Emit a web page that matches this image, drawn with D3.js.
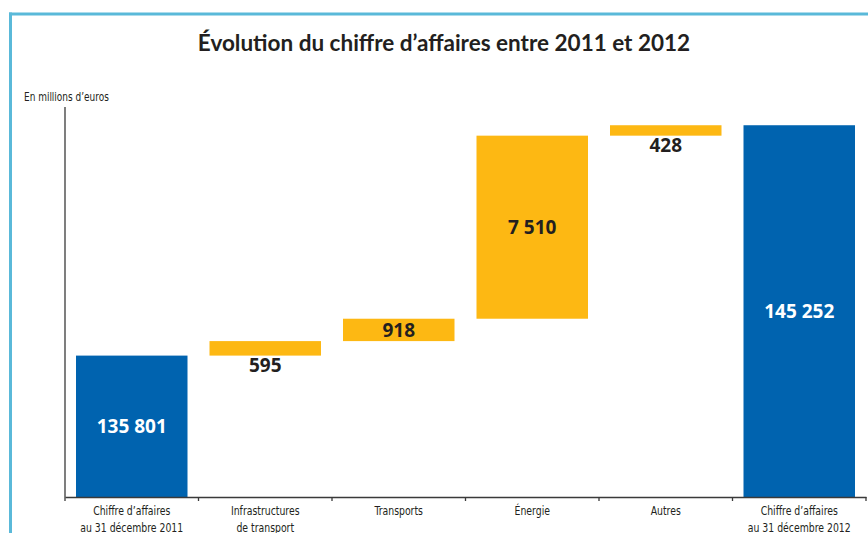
<!DOCTYPE html>
<html>
<head>
<meta charset="utf-8">
<script src="https://cdn.jsdelivr.net/npm/d3@7"></script>
<style>
  html, body { margin: 0; padding: 0; background: #fff; }
  svg { display: block; }
</style>
</head>
<body>
<div id="visContainer"></div>
<script>
'use strict';

// chart data
var categories = [
  ["Chiffre d\u2019affaires", "au 31 d\u00e9cembre 2011"],
  ["Infrastructures", "de transport"],
  ["Transports"],
  ["\u00c9nergie"],
  ["Autres"],
  ["Chiffre d\u2019affaires", "au 31 d\u00e9cembre 2012"]
];
var values = [135801, 595, 918, 7510, 428, 145252];
var kinds = ["total", "delta", "delta", "delta", "delta", "total"];
var yDomain = [130000, 146000];

var width = 868, height = 533;
var margin = {top: 107, bottom: 36, left: 65, right: 2};
var narrow = 0.83; // squeeze to mimic a condensed face

var svg = d3.select('#visContainer')
    .append('svg')
    .attr('width', width)
    .attr('height', height);

// frame lines (top and left)
svg.append('line')
    .attr('x1', 9).attr('x2', width).attr('y1', 14).attr('y2', 14)
    .attr('stroke', '#5ab9d9').attr('stroke-width', 3);
svg.append('line')
    .attr('x1', 10.5).attr('x2', 10.5).attr('y1', 12.5).attr('y2', height)
    .attr('stroke', '#5ab9d9').attr('stroke-width', 3);

// title
svg.append('text')
    .attr('x', 444).attr('y', 51)
    .attr('text-anchor', 'middle')
    .style('font-family', 'Lato, "Open Sans", sans-serif')
    .style('font-weight', 'bold')
    .style('font-size', '22.5px')
    .style('fill', '#231f20')
    .text("\u00c9volution du chiffre d\u2019affaires entre 2011 et 2012");

// unit label
svg.append('text')
    .attr('transform', 'translate(24,101) scale(' + narrow + ',1)')
    .style('font-family', '"Liberation Sans Narrow", "DejaVu Sans Condensed", sans-serif')
    .style('font-size', '12px')
    .style('fill', '#231f20')
    .text("En millions d\u2019euros");

// build waterfall steps
var steps = [];
var running = 0;
values.forEach(function(v, i) {
  if (kinds[i] == "total") {
    steps.push({i: i, start: yDomain[0], end: v, value: v, kind: "total"});
    running = v;
  } else {
    steps.push({i: i, start: running, end: running + v, value: v, kind: "delta"});
    running += v;
  }
});

var x = d3.scaleBand()
    .domain(d3.range(categories.length))
    .range([margin.left, width - margin.right])
    .padding(0);

var y = d3.scaleLinear()
    .domain(yDomain)
    .range([height - margin.bottom, margin.top]);

var fmt = d3.formatLocale({decimal: ",", thousands: "\u00a0", grouping: [3], currency: ["", " \u20ac"]}).format(",d");

var barPad = 11;
var colors = {total: '#0063af', delta: '#fdb813'};

svg.selectAll('rect.bar')
    .data(steps)
    .enter()
    .append('rect')
    .attr('class', 'bar')
    .attr('x', function(d) { return x(d.i) + barPad; })
    .attr('width', x.bandwidth() - 2 * barPad)
    .attr('y', function(d) { return y(Math.max(d.start, d.end)); })
    .attr('height', function(d) { return Math.abs(y(d.start) - y(d.end)); })
    .attr('fill', function(d) { return colors[d.kind]; });

// value labels
svg.selectAll('text.val')
    .data(steps)
    .enter()
    .append('text')
    .attr('class', 'val')
    .attr('x', function(d) { return x(d.i) + x.bandwidth() / 2; })
    .attr('y', function(d) {
      var top = y(Math.max(d.start, d.end)), bot = y(Math.min(d.start, d.end));
      if (bot - top < 20) return bot + 16;   // small bars: label below
      return (top + bot) / 2 + 7;
    })
    .attr('text-anchor', 'middle')
    .style('font-family', '"Open Sans", sans-serif')
    .style('font-weight', 'bold')
    .style('font-size', '19px')
    .style('fill', function(d) { return d.kind == "total" ? '#ffffff' : '#231f20'; })
    .text(function(d) { return fmt(d.value); });

// axes
var baseY = height - margin.bottom;
svg.append('line')
    .attr('x1', margin.left).attr('x2', margin.left)
    .attr('y1', margin.top).attr('y2', baseY)
    .attr('stroke', '#3a3a3a').attr('stroke-width', 1.3);

var xAxis = d3.axisBottom(x).tickSize(0).tickFormat('');
var gx = svg.append('g')
    .attr('transform', 'translate(0,' + baseY + ')')
    .call(xAxis);
gx.select('.domain').attr('stroke', '#3a3a3a').attr('stroke-width', 1.5);

// ticks at the band edges
var edges = x.domain().map(function(d) { return x(d); }).concat([x.range()[1]]);
gx.selectAll('line.edge')
    .data(edges)
    .enter()
    .append('line')
    .attr('class', 'edge')
    .attr('x1', function(d) { return d; }).attr('x2', function(d) { return d; })
    .attr('y1', 0).attr('y2', 4)
    .attr('stroke', '#3a3a3a').attr('stroke-width', 1.3);

// category labels, two lines
var lab = gx.selectAll('text.cat')
    .data(categories)
    .enter()
    .append('text')
    .attr('class', 'cat')
    .attr('text-anchor', 'middle')
    .attr('transform', function(d, i) {
      return 'translate(' + (x(i) + x.bandwidth() / 2) + ',18) scale(' + narrow + ',1)';
    })
    .style('font-family', '"Liberation Sans Narrow", "DejaVu Sans Condensed", sans-serif')
    .style('font-size', '12.5px')
    .style('fill', '#231f20');
lab.selectAll('tspan')
    .data(function(d) { return d; })
    .enter()
    .append('tspan')
    .attr('x', 0)
    .attr('dy', function(d, j) { return j == 0 ? 0 : 17; })
    .text(function(d) { return d; });
</script>
</body>
</html>
